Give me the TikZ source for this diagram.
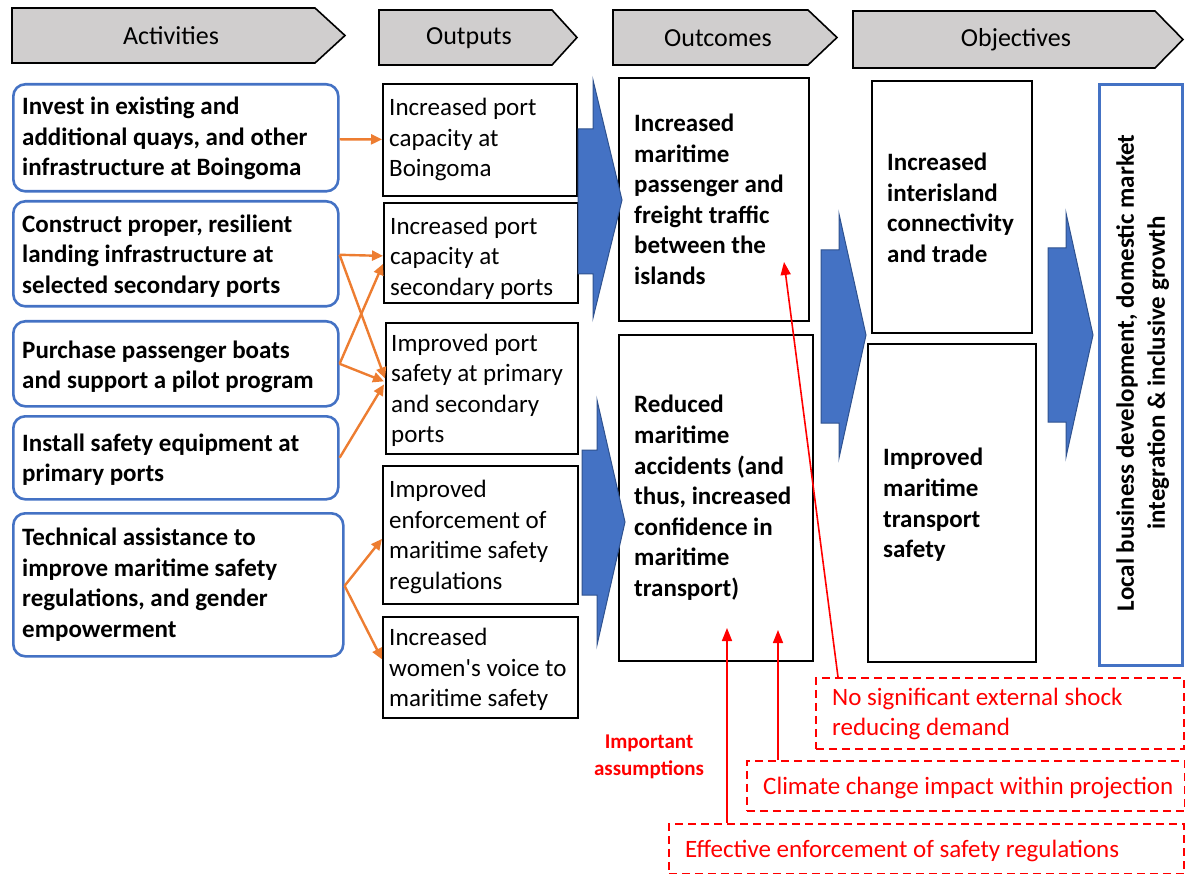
\documentclass[tikz,border=0pt]{standalone}
\usepackage{fontspec}
\setmainfont{Carlito}[Ligatures=TeXOff]
\usetikzlibrary{arrows.meta,calc}
\definecolor{cblue}{HTML}{4472C4}
\definecolor{cdblue}{HTML}{2F528F}
\definecolor{corange}{HTML}{ED7D31}
\definecolor{cgray}{HTML}{D0CECE}
\definecolor{cred}{HTML}{FF0000}
\begin{document}
\begin{tikzpicture}[x=1pt,y=-1pt,
  hdr/.style={draw=black,fill=cgray,line width=1.6pt,line join=miter},
  hdrtxt/.style={font=\fontsize{26}{30}\selectfont,inner sep=0pt},
  actbox/.style={draw=cblue,line width=2.6pt,rounded corners=12pt,anchor=north west,inner sep=0pt},
  outbox/.style={draw=black,line width=1.8pt,anchor=north west,inner sep=0pt},
  acttxt/.style={font=\fontsize{25}{30.5}\selectfont\bfseries,align=left,anchor=west,inner sep=0pt},
  outtxt/.style={font=\fontsize{25}{30.5}\selectfont,align=left,anchor=west,inner sep=0pt},
  ocmtxt/.style={font=\fontsize{25}{30.6}\selectfont\bfseries,align=left,anchor=west,inner sep=0pt},
  bigarrow/.style={fill=cblue,draw=cdblue,line width=1pt,line join=miter},
  oarr/.style={draw=corange,line width=2.4pt,-{Triangle[length=11pt,width=10pt]}},
  rarr/.style={draw=cred,line width=1.6pt,-{Triangle[length=13pt,width=10pt]}},
  asmbox/.style={draw=cred,line width=1.6pt,dash pattern=on 8pt off 5pt,anchor=north west,inner sep=0pt},
  asmtxt/.style={font=\fontsize{25}{30}\selectfont,text=cred,align=left,anchor=west,inner sep=0pt}
]
\useasboundingbox (0,0) rectangle (1185,874);

% header chevrons
\draw[hdr] (12,8) -- (315,8) -- (345,35.5) -- (315,63) -- (12,63) -- cycle;
\node[hdrtxt] (hA) at (171,35.5) {Activities};
\draw[hdr] (379,10) -- (552,10) -- (577,37.5) -- (552,65) -- (379,65) -- cycle;
\node[hdrtxt] (hB) at (469,38) {Outputs};
\draw[hdr] (613,10) -- (808,10) -- (837,37.5) -- (808,65) -- (613,65) -- cycle;
\node[hdrtxt] (hC) at (718,38) {Outcomes};
\draw[hdr] (853,11) -- (1155,11) -- (1183,39.5) -- (1155,68) -- (853,68) -- cycle;
\node[hdrtxt] (hD) at (1016,40) {Objectives};

% activities
\node[actbox,minimum width=325pt,minimum height=107pt] (a1) at (12,83) {};
\node[acttxt] (a1t) at ($(a1.west)+(10,1)$) {Invest in existing and\\additional quays, and other\\infrastructure at Boingoma};
\node[actbox,minimum width=325pt,minimum height=105pt] (a2) at (12,200) {};
\node[acttxt] (a2t) at ($(a2.west)+(10,2)$) {Construct proper, resilient\\landing infrastructure at\\selected secondary ports};
\node[actbox,minimum width=325pt,minimum height=85pt] (a3) at (12,320) {};
\node[acttxt] (a3t) at ($(a3.west)+(10,3)$) {Purchase passenger boats\\and support a pilot program};
\node[actbox,minimum width=325pt,minimum height=83pt] (a4) at (12,415) {};
\node[acttxt] (a4t) at ($(a4.west)+(10,2)$) {Install safety equipment at\\primary ports};
\node[actbox,minimum width=330pt,minimum height=143pt] (a5) at (12,512) {};
\node[acttxt] (a5t) at ($(a5.west)+(10,0)$) {Technical assistance to\\improve maritime safety\\regulations, and gender\\empowerment};

% outputs
\node[outbox,minimum width=194pt,minimum height=112pt] (o1) at (382,83) {};
\node[outtxt] (o1t) at ($(o1.west)+(7,0)$) {Increased port\\capacity at\\Boingoma};
\node[outbox,minimum width=194pt,minimum height=100pt] (o2) at (383,202) {};
\node[outtxt] (o2t) at ($(o2.west)+(7,5)$) {Increased port\\capacity at\\secondary ports};
\node[outbox,minimum width=192pt,minimum height=131pt] (o3) at (385,322) {};
\node[outtxt] (o3t) at ($(o3.west)+(6,2)$) {Improved port\\safety at primary\\and secondary\\ports};
\node[outbox,minimum width=195pt,minimum height=138pt] (o4) at (382,465) {};
\node[outtxt] (o4t) at ($(o4.west)+(7,2)$) {Improved\\enforcement of\\maritime safety\\regulations};
\node[outbox,minimum width=195pt,minimum height=101pt] (o5) at (382,616) {};
\node[outtxt] (o5t) at ($(o5.west)+(7,2)$) {Increased\\women's voice to\\maritime safety};

% outcomes
\node[outbox,minimum width=190pt,minimum height=243pt] (c1) at (618,77) {};
\node[ocmtxt] (c1t) at ($(c1.west)+(16,0)$) {Increased\\maritime\\passenger and\\freight traffic\\between the\\islands};
\node[outbox,minimum width=194pt,minimum height=326pt] (c2) at (618,334) {};
\node[ocmtxt] (c2t) at ($(c2.west)+(16,0)$) {Reduced\\maritime\\accidents (and\\thus, increased\\confidence in\\maritime\\transport)};

% objectives
\node[outbox,minimum width=160pt,minimum height=252pt] (j1) at (871,80) {};
\node[ocmtxt] (j1t) at ($(j1.west)+(16,1)$) {Increased\\interisland\\connectivity\\and trade};
\node[outbox,minimum width=168pt,minimum height=318pt] (j2) at (867,343) {};
\node[ocmtxt] (j2t) at ($(j2.west)+(16,2)$) {Improved\\maritime\\transport\\safety};

% final goal
\node[draw=cblue,line width=2.6pt,anchor=north west,inner sep=0pt,minimum width=83pt,minimum height=581pt] (g) at (1098,83) {};
\node[rotate=90,font=\fontsize{25}{31}\selectfont\bfseries,align=center,inner sep=0pt] (gt) at ($(g.center)+(2,-2)$) {Local business development, domestic market\\integration \& inclusive growth};

% big blue arrows
\draw[bigarrow] (578,129) -- (593,129) -- (593,80) -- (622,200) -- (593,318) -- (593,274) -- (578,274) -- cycle;
\draw[bigarrow] (582,450) -- (597,450) -- (597,400) -- (625,522) -- (597,645) -- (597,595) -- (582,595) -- cycle;
\draw[bigarrow] (821,250) -- (839,250) -- (839,214) -- (866,335) -- (839,458) -- (839,423) -- (821,423) -- cycle;
\draw[bigarrow] (1048,248) -- (1066,248) -- (1066,213) -- (1093,335) -- (1066,457) -- (1066,422) -- (1048,422) -- cycle;

% orange connectors
\draw[oarr] ($(a1.east)+(0,1.5)$) -- ($(o1.west)+(0,-0.5)$);
\draw[oarr] ($(a2.east)+(0,1)$) -- ($(o2.west)+(0,3)$);
\draw[oarr] ($(a2.east)+(0,1)$) -- ($(o3.west)+(0,-10)$);
\draw[oarr] (a3.east) -- ($(o2.west)+(0,11)$);
\draw[oarr] (a3.east) -- ($(o3.west)+(-1,-7)$);
\draw[oarr] (a4.east) -- ($(o3.west)+(-1,-4)$);
\draw[oarr] ($(a5.east)+(0,1)$) -- ($(o4.west)+(0,4)$);
\draw[oarr] ($(a5.east)+(0,1)$) -- ($(o5.west)+(0,-8)$);

% assumptions
\node[asmbox,minimum width=368pt,minimum height=71pt] (s1) at (815,677) {};
\node[asmtxt] (s1t) at ($(s1.west)+(17,1)$) {No significant external shock\\reducing demand};
\node[asmbox,minimum width=438pt,minimum height=50pt] (s2) at (746,760) {};
\node[asmtxt] (s2t) at ($(s2.west)+(17,2)$) {Climate change impact within projection};
\node[asmbox,minimum width=515pt,minimum height=50pt] (s3) at (668,823) {};
\node[asmtxt] (s3t) at ($(s3.west)+(17,2)$) {Effective enforcement of safety regulations};
\node[font=\fontsize{21}{27}\selectfont\bfseries,text=cred,align=center,inner sep=0pt] (imp) at (649,757) {Important\\assumptions};

\coordinate (r1) at (784,262);
\coordinate (r2) at (727,628);
\coordinate (r3) at (778,630);
\draw[rarr] (s1.north west -| 838,0) -- (r1);
\draw[rarr] (s3.north west -| r2) -- (r2);
\draw[rarr] (s2.north west -| r3) -- (r3);
\end{tikzpicture}
\end{document}
